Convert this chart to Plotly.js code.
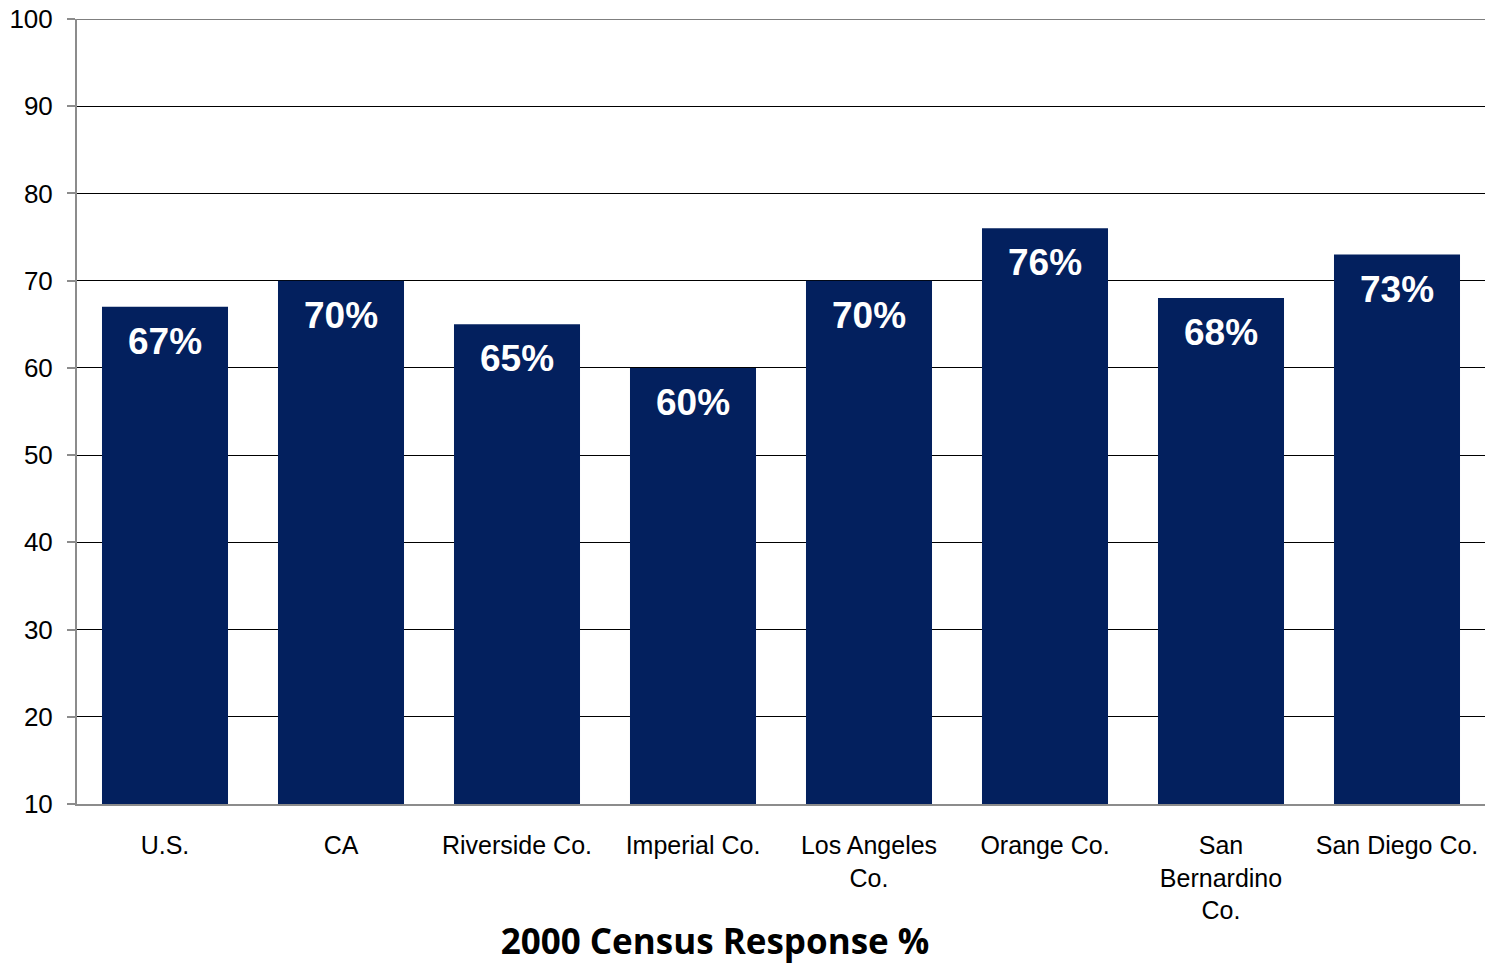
<!DOCTYPE html>
<html>
<head>
<meta charset="utf-8">
<script src="https://cdn.plot.ly/plotly-3.0.1.min.js"></script>
<style>html,body{margin:0;padding:0;background:#fff;}#chart{width:1499px;height:975px;}</style>
</head>
<body>
<div id="chart"></div>
<script>
const categories = ["U.S.", "CA", "Riverside Co.", "Imperial Co.", "Los Angeles<br>Co.", "Orange Co.", "San<br>Bernardino<br>Co.", "San Diego Co."];
const responseRates = [67, 70, 65, 60, 70, 76, 68, 73];
const valueLabels = ["67%", "70%", "65%", "60%", "70%", "76%", "68%", "73%"];
const chartTitle = "2000 Census Response %";

const trace = {
  type: "bar",
  x: categories,
  y: responseRates,
  marker: {color: "#03205E"},
  hoverinfo: "none"
};

const annotations = categories.map((c, i) => ({
  x: c, y: responseRates[i], xref: "x", yref: "y",
  text: valueLabels[i], showarrow: false, yanchor: "top", yshift: -12,
  font: {family: "Liberation Sans, Arial, sans-serif", size: 37, color: "#ffffff", weight: "bold"}
}));

const layout = {
  width: 1499, height: 975,
  margin: {l: 77, r: 14, t: 19, b: 171},
  paper_bgcolor: "#ffffff", plot_bgcolor: "#ffffff",
  bargap: 0.284,
  showlegend: false,
  font: {family: "Liberation Sans, Arial, sans-serif", color: "#000"},
  title: {
    text: chartTitle, xref: "container", yref: "container",
    x: 0.477, xanchor: "center", y: 0.034, yanchor: "middle",
    font: {family: "Open Sans, Liberation Sans, sans-serif", size: 35, color: "#000", weight: "bold"}
  },
  xaxis: {
    type: "category",
    showline: true, linecolor: "#8c8c8c", linewidth: 2,
    ticks: "", ticklabelstandoff: 18,
    tickfont: {size: 25, color: "#000"},
    showgrid: false, fixedrange: true
  },
  yaxis: {
    range: [10, 100], dtick: 10, tick0: 10,
    showline: true, linecolor: "#8c8c8c", linewidth: 2,
    ticks: "outside", ticklen: 8, tickwidth: 2, tickcolor: "#8c8c8c",
    ticklabelstandoff: 9,
    tickfont: {size: 26, color: "#000"},
    showgrid: true, gridcolor: "#000000", gridwidth: 1,
    zeroline: false, fixedrange: true
  },
  shapes: [{
    type: "line", xref: "paper", yref: "y", x0: 0, x1: 1, y0: 100, y1: 100,
    line: {color: "#000000", width: 1}, layer: "above"
  }],
  annotations: annotations
};

Plotly.newPlot("chart", [trace], layout, {displayModeBar: false, staticPlot: true});
</script>
</body>
</html>
